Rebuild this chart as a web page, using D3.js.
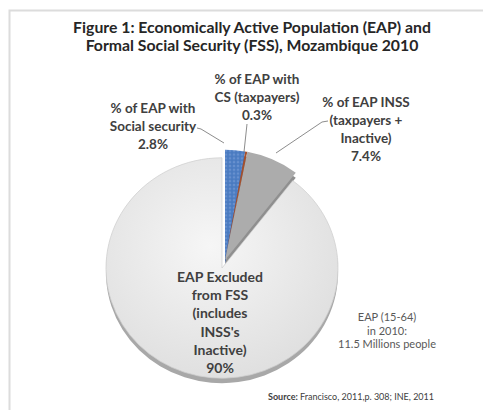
<!DOCTYPE html>
<html><head><meta charset="utf-8">
<script src="https://cdn.jsdelivr.net/npm/d3@7"></script>
<style>html,body{margin:0;padding:0;background:#fff;}svg{display:block;}</style>
</head><body><svg id="c" width="483" height="410"></svg>
<script>
const titleLines = ["Figure 1: Economically Active Population (EAP) and", "Formal Social Security (FSS), Mozambique 2010"];
const categories = ["Social security", "CS (taxpayers)", "INSS (taxpayers + Inactive)", "Excluded from FSS"];
const values = [2.8, 0.3, 7.4, 90];
const valueLabels = ["2.8%", "0.3%", "7.4%", "90%"];
const labelLines = [
  ["% of EAP with", "Social security"],
  ["% of EAP with", "CS (taxpayers)"],
  ["% of EAP INSS", "(taxpayers +", "Inactive)"],
  ["EAP Excluded", "from FSS", "(includes", "INSS's", "Inactive)"]
];
const noteLines = ["EAP (15-64)", "in 2010:", "11.5 Millions people"];
const sourceBold = "Source:";
const sourceText = " Francisco,  2011,p. 308; INE, 2011";

const svg = d3.select("#c");
const font = "Lato, 'Open Sans', sans-serif";

// frame
svg.append("rect").attr("x", 9.5).attr("y", 10.5).attr("width", 520).attr("height", 460)
  .attr("fill", "none").attr("stroke", "#dcdcdc").attr("stroke-width", 2);

// title
svg.append("g").selectAll("text").data(titleLines).join("text")
  .attr("x", 252).attr("y", (d, i) => 33 + i * 18)
  .attr("text-anchor", "middle").attr("font-family", font).attr("font-weight", "bold")
  .attr("font-size", 15.8).attr("fill", "#262626").text(d => d);

const defs = svg.append("defs");
const rg = defs.append("radialGradient").attr("id", "lg").attr("cx", "45%").attr("cy", "40%").attr("r", "65%");
rg.append("stop").attr("offset", "0%").attr("stop-color", "#f6f6f6");
rg.append("stop").attr("offset", "100%").attr("stop-color", "#dedede");
const pat = defs.append("pattern").attr("id", "bp").attr("width", 4).attr("height", 4).attr("patternUnits", "userSpaceOnUse");
pat.append("rect").attr("width", 4).attr("height", 4).attr("fill", "#4f7fc4");
pat.append("circle").attr("cx", 1).attr("cy", 1).attr("r", 0.8).attr("fill", "#86a6db");
pat.append("circle").attr("cx", 3).attr("cy", 3).attr("r", 0.6).attr("fill", "#3d6db3");

const fills = ["url(#bp)", "#a5502d", "#acacac", "url(#lg)"];
const sideFills = ["#3a65a8", "#7a3a20", "#8f8f8f", "#a8a8a8"];

const pie = d3.pie().sort(null).value(d => d).startAngle(0).endAngle(2 * Math.PI);
const arcs = pie(values);
const R = 116;
const arc = d3.arc().innerRadius(0).outerRadius(R);
const cx = 222, cy = 268, sy = 0.95;
const depth = 5;
const offset = i => i < 3 ? [3, -8] : [0, 0];

const pieG = svg.append("g");
// depth layers
arcs.forEach((a, i) => {
  const [dx, dy] = offset(i);
  pieG.append("path").attr("d", arc(a))
    .attr("transform", `translate(${cx + dx},${cy + dy + depth}) scale(1,${sy})`)
    .attr("fill", sideFills[i]);
});
[3, 0, 1, 2].forEach(i => {
  const a = arcs[i];
  const [dx, dy] = offset(i);
  pieG.append("path").attr("d", arc(a))
    .attr("transform", `translate(${cx + dx},${cy + dy}) scale(1,${sy})`)
    .attr("fill", fills[i])
    .attr("stroke", i === 3 ? "#cfcfcf" : "none").attr("stroke-width", 0.8);
});

// labels
function block(lines, x, y0, step, opts) {
  const g = svg.append("g");
  g.selectAll("text").data(lines).join("text")
    .attr("x", x).attr("y", (d, i) => y0 + i * step)
    .attr("text-anchor", "middle").attr("font-family", font)
    .attr("font-weight", opts.weight || "bold").attr("font-size", opts.size)
    .attr("fill", opts.color).text(d => d);
}
const lc = "#404040";
block(labelLines[0].concat([valueLabels[0]]), 153, 113, 18, {size: 13.5, color: lc});
block(labelLines[1].concat([valueLabels[1]]), 257, 84, 18, {size: 13.5, color: lc});
block(labelLines[2].concat([valueLabels[2]]), 366, 107, 18, {size: 13.5, color: lc});
block(labelLines[3].concat([valueLabels[3]]), 220, 282, 18.2, {size: 14, color: lc});
block(noteLines, 387, 321, 13.5, {size: 11, color: "#595959", weight: "normal"});

// leader lines
const line = d3.line();
const leaders = [
  [[197, 128], [201, 129], [224, 143]],
  [[247, 124], [244, 152]],
  [[328, 121], [322, 122], [276, 153]]
];
svg.append("g").selectAll("path").data(leaders).join("path")
  .attr("d", d => line(d)).attr("fill", "none").attr("stroke", "#7f7f7f").attr("stroke-width", 0.9);

// source
const st = svg.append("text").attr("x", 268).attr("y", 400).attr("font-family", font)
  .attr("font-size", 9).attr("fill", "#404040");
st.append("tspan").attr("font-weight", "bold").text(sourceBold);
st.append("tspan").text(sourceText);
</script></body></html>
